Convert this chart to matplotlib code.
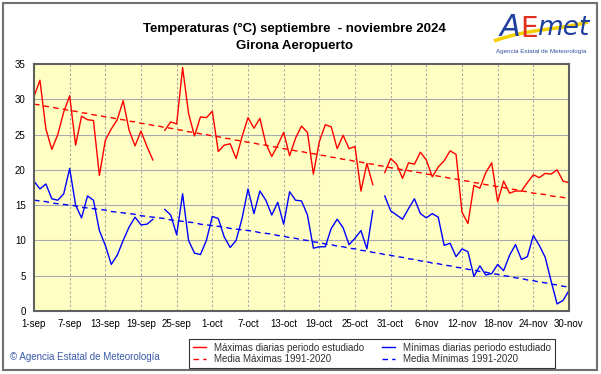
import numpy as np
import matplotlib
matplotlib.use('Agg')
import matplotlib.pyplot as plt
from matplotlib.patches import Rectangle
from matplotlib.path import Path
from matplotlib.patches import PathPatch

plt.rcParams['font.family'] = ['Liberation Sans', 'DejaVu Sans']

nan = np.nan

# Daily values, 1 sep (index 0) to 30 nov (index 90)
tmax = [30.4, 32.7, 25.8, 22.9, 25.0, 28.2, 30.5, 23.5, 27.6, 27.1,
        27.0, 19.2, 24.2, 25.8, 27.1, 29.8, 25.6, 23.4, 25.5, 23.3,
        21.4, nan, 25.6, 26.8, 26.5, 34.5, 28.0, 24.8, 27.5, 27.4,
        28.3, 22.6, 23.5, 23.7, 21.6, 24.7, 27.4, 25.9, 27.3, 23.7,
        21.9, 23.5, 25.3, 22.0, 24.5, 26.2, 25.3, 19.4, 24.0, 26.4,
        26.1, 23.0, 24.9, 23.0, 23.3, 17.0, 20.9, 17.9, nan, 19.6,
        21.6, 20.8, 18.8, 21.0, 20.8, 22.5, 21.4, 19.0, 20.4, 21.3,
        22.7, 22.2, 14.0, 12.4, 17.8, 17.4, 19.6, 21.0, 15.5, 18.4,
        16.7, 17.0, 17.0, 18.2, 19.3, 18.9, 19.5, 19.4, 20.0, 18.4,
        18.2]

tmin = [18.4, 17.3, 18.0, 15.9, 15.7, 16.6, 20.2, 15.0, 13.2, 16.3,
        15.7, 11.4, 9.3, 6.6, 7.9, 10.0, 11.9, 13.3, 12.2, 12.3,
        13.0, nan, 14.4, 13.6, 10.8, 16.6, 10.0, 8.2, 8.0, 10.0,
        13.4, 13.1, 10.5, 9.0, 10.0, 13.1, 17.3, 13.8, 17.0, 15.7,
        13.6, 15.4, 12.3, 16.9, 15.7, 15.6, 13.6, 8.9, 9.1, 9.1,
        11.7, 13.0, 11.8, 9.4, 10.3, 11.4, 8.8, 14.2, nan, 16.3,
        14.2, 13.6, 13.0, 14.5, 15.9, 13.8, 13.2, 13.8, 13.3, 9.3,
        9.6, 7.7, 8.8, 8.4, 4.9, 6.4, 5.1, 5.3, 6.6, 5.7,
        7.9, 9.4, 7.3, 7.7, 10.7, 9.3, 7.6, 4.2, 1.0, 1.5,
        2.9]

# Normals 1991-2020
tmax_norm = [29.3, 29.2, 29.0, 28.9, 28.7, 28.6, 28.4, 28.3, 28.1, 28.0,
             27.8, 27.7, 27.5, 27.4, 27.2, 27.1, 26.9, 26.8, 26.6, 26.5,
             26.3, 26.2, 26.0, 25.9, 25.7, 25.6, 25.4, 25.3, 25.1, 25.0,
             24.8, 24.7, 24.5, 24.4, 24.2, 24.1, 23.9, 23.8, 23.6, 23.5,
             23.3, 23.2, 23.0, 22.9, 22.7, 22.6, 22.4, 22.3, 22.1, 22.0,
             21.8, 21.7, 21.5, 21.4, 21.2, 21.1, 20.9, 20.8, 20.6, 20.5,
             20.3, 20.2, 20.0, 19.9, 19.7, 19.6, 19.4, 19.3, 19.1, 19.0,
             18.8, 18.7, 18.5, 18.4, 18.2, 18.1, 17.9, 17.8, 17.6, 17.5,
             17.3, 17.2, 17.0, 16.9, 16.7, 16.6, 16.5, 16.3, 16.2, 16.1,
             15.9]

tmin_norm = [15.7, 15.6, 15.5, 15.3, 15.2, 15.1, 15.0, 14.9, 14.7, 14.6,
             14.5, 14.4, 14.3, 14.1, 14.0, 13.9, 13.8, 13.7, 13.5, 13.4,
             13.3, 13.2, 13.1, 12.9, 12.8, 12.7, 12.6, 12.5, 12.3, 12.2,
             12.1, 12.0, 11.9, 11.7, 11.6, 11.5, 11.4, 11.3, 11.1, 11.0,
             10.9, 10.7, 10.6, 10.4, 10.3, 10.1, 10.0, 9.8, 9.7, 9.5,
             9.4, 9.2, 9.1, 8.9, 8.8, 8.6, 8.5, 8.3, 8.2, 8.0,
             7.9, 7.7, 7.6, 7.4, 7.3, 7.1, 7.0, 6.8, 6.7, 6.5,
             6.4, 6.2, 6.1, 5.9, 5.8, 5.6, 5.5, 5.3, 5.2, 5.0,
             4.9, 4.7, 4.6, 4.4, 4.3, 4.1, 4.0, 3.8, 3.7, 3.5,
             3.4]

tick_pos = [0, 6, 12, 18, 24, 30, 36, 42, 48, 54, 60, 66, 72, 78, 84, 90]
tick_labels = ['1-sep', '7-sep', '13-sep', '19-sep', '25-sep', '1-oct', '7-oct',
               '13-oct', '19-oct', '25-oct', '31-oct', '6-nov', '12-nov',
               '18-nov', '24-nov', '30-nov']

W, H = 601, 374
fig = plt.figure(figsize=(W / 100, H / 100), dpi=100)

# outer frame of the image
fig.patches.append(Rectangle((3 / W, 4 / H), 594 / W, 367 / H, transform=fig.transFigure,
                             fill=False, edgecolor='#707070', linewidth=1.5))

ax = fig.add_axes([34 / W, 1 - 311 / H, 535 / W, 247 / H])
ax.set_facecolor('#FFFFC4')

days = np.arange(len(tmax))
ax.plot(days, tmax, color='#FF0000', lw=1.0, label='Máximas diarias periodo estudiado')
ax.plot(days, tmax_norm, color='#FF0000', lw=1.0, dashes=(4, 3), label='Media Máximas 1991-2020')
ax.plot(days, tmin, color='#0000FF', lw=1.0, label='Mínimas diarias periodo estudiado')
ax.plot(days, tmin_norm, color='#0000FF', lw=1.0, dashes=(4, 3), label='Media Mínimas 1991-2020')

ax.set_xlim(0, 90)
ax.set_ylim(0, 35)
ax.set_xticks(tick_pos)
ax.set_xticklabels(tick_labels)
ax.set_yticks(range(0, 36, 5))
ax.tick_params(axis='both', length=0, labelsize=7, pad=6)

for x in tick_pos[1:-1]:
    ax.axvline(x, color='#A8A8A8', lw=0.8, dashes=(2, 2), zorder=0)
for y in range(5, 35, 5):
    ax.axhline(y, color='#A8A8B0', lw=0.8, zorder=0)
for s in ax.spines.values():
    s.set_color('#606060')
    s.set_linewidth(1.5)

# titles
fig.text(294 / W, 1 - 29 / H, 'Temperaturas (°C) septiembre  - noviembre 2024',
         ha='center', va='center', fontsize=9.5, fontweight='bold')
fig.text(294 / W, 1 - 46 / H, 'Girona Aeropuerto',
         ha='center', va='center', fontsize=9.5, fontweight='bold')

# logo
swoosh = Path([(494 / W, 1 - 41 / H), (530 / W, 1 - 28 / H), (560 / W, 1 - 30 / H), (588 / W, 1 - 22 / H)],
              [Path.MOVETO, Path.CURVE4, Path.CURVE4, Path.CURVE4])
fig.patches.append(PathPatch(swoosh, transform=fig.transFigure, fill=False,
                             edgecolor='#F5D000', lw=2.5))
fig.text(500 / W, 1 - 27 / H, 'A', color='#2040A0', fontsize=22, style='italic',
         ha='left', va='center', family='DejaVu Sans')
fig.text(520 / W, 1 - 29 / H, 'E', color='#E03020', fontsize=20,
         ha='left', va='center', family='DejaVu Sans')
fig.text(537 / W, 1 - 28 / H, 'met', color='#2040A0', fontsize=19, style='italic',
         ha='left', va='center', family='DejaVu Sans')
fig.text(541 / W, 1 - 51 / H, 'Agencia Estatal de Meteorología', color='#3050A0',
         fontsize=4.5, ha='center', va='center')

# copyright
fig.text(10 / W, 1 - 357 / H, '© Agencia Estatal de Meteorología', color='#3A5BA8',
         fontsize=7, ha='left', va='center')

handles, labels = ax.get_legend_handles_labels()
leg = fig.legend(handles, labels,
                 loc='center', bbox_to_anchor=(372 / W, 1 - 353.5 / H), ncol=2,
                 fontsize=7, frameon=True, fancybox=False, edgecolor='black',
                 handlelength=1.3, handletextpad=0.8, columnspacing=1.9,
                 labelspacing=0.15, borderpad=0.4)
leg.get_frame().set_linewidth(0.8)
for t in leg.get_texts():
    t.set_color('#303030')

fig.savefig('out.png', dpi=100)
